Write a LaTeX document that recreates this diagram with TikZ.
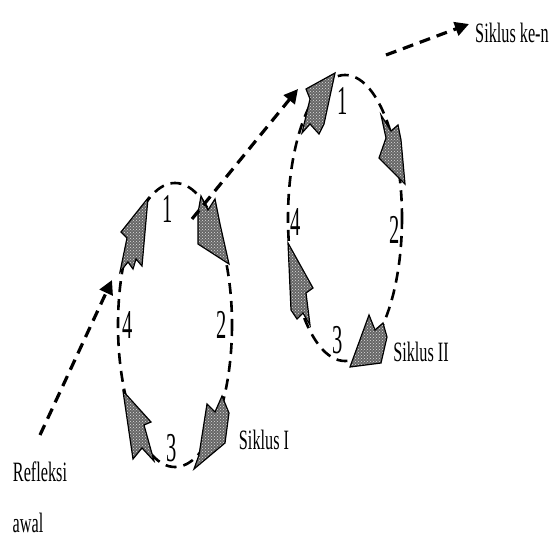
\documentclass[tikz,border=0pt]{standalone}
\usepackage{fontspec}
\setmainfont{Liberation Serif}[FakeStretch=0.58]
\newfontfamily\numfont{Liberation Serif}[FakeStretch=0.5]
\usetikzlibrary{arrows.meta,patterns}
\begin{document}
\begin{tikzpicture}[x=1pt,y=-1pt,
  cyc/.style={line width=2.6pt, dash pattern=on 11pt off 7pt},
  flow/.style={line width=3.2pt, dash pattern=on 11pt off 7pt, -{Triangle[length=14pt,width=14pt]}},
  harrow/.style={draw=black, line width=1.2pt, line join=miter, preaction={fill=black!60}, pattern=crosshatch dots, pattern color=gray!25},
  lbl/.style={font=\fontsize{28}{28}\selectfont, inner sep=0pt},
  num/.style={font=\numfont\fontsize{41}{41}\selectfont, inner sep=0pt}]
\useasboundingbox (0,0) rectangle (551,540);
% cycles
\draw[cyc] (175,325) ellipse [x radius=57, y radius=142];
\draw[cyc] (345,218) ellipse [x radius=57, y radius=143];
% hatched arrows cycle I
\draw[harrow] (148,198) -- (121,232) -- (127,238) -- (120,272) -- (128,262) -- (133,269) -- (136,259) -- (142,266) -- cycle;
\draw[harrow] (201,196) -- (208,210) -- (215,199) -- (220,224) -- (229,264) -- (198,244) -- (198,213) -- cycle;
\draw[harrow] (123,391) -- (151,422) -- (144,425) -- (154,461) -- (142,448) -- (133,459) -- cycle;
\draw[harrow] (207,404) -- (215,412) -- (222,396) -- (229,413) -- (225,443) -- (194,469) -- (199,455) -- cycle;
% hatched arrows cycle II
\draw[harrow] (335,73) -- (306,89) -- (310,99) -- (302,133) -- (310,124) -- (319,134) -- (324,124) -- cycle;
\draw[harrow] (381,115) -- (391,131) -- (398,125) -- (401,140) -- (405,184) -- (379,158) -- (386,138) -- cycle;
\draw[harrow] (288,243) -- (313,288) -- (306,293) -- (310,325) -- (303,313) -- (297,319) -- (291,310) -- cycle;
\draw[harrow] (369,315) -- (375,330) -- (383,323) -- (387,337) -- (381,363) -- (350,367) -- cycle;
% numbers
\node[num] (a1) at (168,209) {1};
\node[num] (a2) at (222,325) {2};
\node[num] (a3) at (172,448) {3};
\node[num] (a4) at (128,325) {4};
\node[num] (b1) at (343,101) {1};
\node[num] (b2) at (395,230) {2};
\node[num] (b3) at (338,340) {3};
\node[num] (b4) at (296,222) {4};
% labels
\node[lbl] (s1) at (264,440) {Siklus I};
\node[lbl] (s2) at (421,352) {Siklus II};
\node[lbl] (sn) at (512,33) {Siklus ke-n};
\node[lbl] (r1) at (40,472) {Refleksi};
\node[lbl] (r2) at (28,523) {awal};
% flow arrows
\coordinate (f1s) at (40,435);
\coordinate (f1e) at (112,280);
\coordinate (f2s) at (192,219);
\coordinate (f2e) at (298,89);
\coordinate (f3s) at (386,55);
\coordinate (f3e) at (469,24);
\draw[flow] (f1s) -- (f1e);
\draw[flow] (f2s) -- (f2e);
\draw[flow] (f3s) -- (f3e);
\end{tikzpicture}
\end{document}
